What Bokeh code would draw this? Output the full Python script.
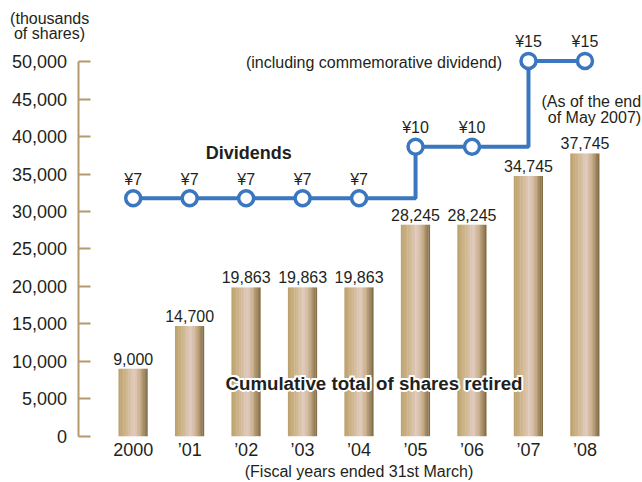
from bokeh.plotting import figure
from bokeh.models import ColumnDataSource, Range1d, FixedTicker, Label, NumeralTickFormatter
from bokeh.transform import dodge
from bokeh.core.properties import value
from bokeh.embed import file_html
from bokeh.resources import INLINE

# ---- data ----
years = ["2000", "\u201901", "\u201902", "\u201903", "\u201904", "\u201905", "\u201906", "\u201907", "\u201908"]
shares = [9000, 14700, 19863, 19863, 19863, 28245, 28245, 34745, 37745]
dividends = [7, 7, 7, 7, 7, 10, 10, 15, 15]
y_ticks = list(range(0, 50001, 5000))

x = list(range(len(years)))
share_labels = [f"{v:,}" for v in shares]
div_labels = [f"\u00a5{d}" for d in dividends]

FONT = "Liberation Sans"
TXT = "#231f20"
TAN = "#b39a6c"
BLUE = "#3a77bf"

src = ColumnDataSource(dict(x=x, shares=shares, share_labels=share_labels,
                            div=dividends, div_labels=div_labels))

p = figure(width=642, height=482, output_backend="svg", toolbar_location=None,
           x_range=Range1d(-2.350, 9.019), y_range=Range1d(-6182, 58171),
           min_border=0)
p.extra_y_ranges = {"div": Range1d(-9.568, 18.521)}
p.grid.grid_line_color = None
p.outline_line_color = None
p.background_fill_color = "white"

# ---- gradient bars (vertical strips) ----
bar_w = 0.514
stops = [(0.0, (0xbb, 0xa0, 0x6a)), (0.3, (0xd0, 0xb8, 0x92)), (0.55, (0xe2, 0xcb, 0xc0)),
         (0.75, (0xc6, 0xad, 0x88)), (1.0, (0x7c, 0x66, 0x3f))]

def grad(t):
    for (t0, c0), (t1, c1) in zip(stops[:-1], stops[1:]):
        if t0 <= t <= t1:
            f = (t - t0) / (t1 - t0)
            return "#%02x%02x%02x" % tuple(int(round(a + (b - a) * f)) for a, b in zip(c0, c1))
    return "#%02x%02x%02x" % stops[-1][1]

N = 18
sw = bar_w / N
for i in range(N):
    off = -bar_w / 2 + sw * (i + 0.5)
    p.vbar(x=dodge("x", off), top="shares", bottom=0, width=sw * 1.25 if i < N - 1 else sw,
           source=src, fill_color=grad((i + 0.5) / N), line_color=None)

# bar value labels
p.text(x="x", y="shares", text="share_labels", source=src, y_offset=-10,
       text_align="center", text_baseline="middle", text_font=value(FONT),
       text_font_size="16px", text_color=TXT)

# ---- dividends step line ----
p.step(x="x", y="div", source=src, mode="after", line_color=BLUE, line_width=4,
       y_range_name="div")
p.scatter(x="x", y="div", source=src, size=15, fill_color="white", line_color=BLUE,
          line_width=3.5, y_range_name="div")
p.text(x="x", y="div", text="div_labels", source=src, y_offset=-19, y_range_name="div",
       text_align="center", text_baseline="middle", text_font=value(FONT),
       text_font_size="16px", text_color=TXT)

# ---- axes ----
ya = p.yaxis[0]
ya.fixed_location = -0.977
ya.ticker = FixedTicker(ticks=y_ticks)
ya.formatter = NumeralTickFormatter(format="0,0")
ya.bounds = (0, 50000)
ya.axis_line_color = TAN
ya.axis_line_width = 2
ya.major_tick_line_color = TAN
ya.major_tick_line_width = 2
ya.major_tick_in = 12
ya.major_tick_out = 0
ya.minor_tick_line_color = None
ya.major_label_standoff = 11
ya.major_label_text_font = FONT
ya.major_label_text_font_size = "18px"
ya.major_label_text_color = TXT

xa = p.xaxis[0]
xa.fixed_location = 0
xa.ticker = FixedTicker(ticks=x)
xa.major_label_overrides = {i: years[i] for i in x}
xa.axis_line_color = None
xa.major_tick_line_color = None
xa.major_tick_in = 0
xa.major_tick_out = 0
xa.minor_tick_line_color = None
xa.major_label_standoff = 4
xa.major_label_text_font = FONT
xa.major_label_text_font_size = "18px"
xa.major_label_text_color = TXT

# ---- annotations ----
def lab(xv, yv, t, size="16px", align="center", style="normal", color=TXT, xo=0, yo=0):
    p.add_layout(Label(x=xv, y=yv, text=t, text_align=align, text_baseline="middle",
                       text_font=FONT, text_font_size=size, text_font_style=style,
                       text_color=color, x_offset=xo, y_offset=yo))

lab(-1.479, 55728, "(thousands")
lab(-1.482, 53725, "of shares)")
lab(3.999, -4713, "(Fiscal years ended 31st March)")
lab(4.264, 49933, "(including commemorative dividend)")
lab(8.995, 44726, "(As of the end", align="right")
lab(8.995, 42497, "of May 2007)", align="right")
lab(2.047, 37784, "Dividends", size="18px", style="bold")

CUM = "Cumulative total of shares retired"
for dx, dy in [(-2, 0), (2, 0), (0, -2), (0, 2), (-1.5, -1.5), (1.5, 1.5), (-1.5, 1.5), (1.5, -1.5)]:
    lab(4.264, 7036, CUM, size="18.7px", style="bold", color="white", xo=dx, yo=dy)
lab(4.264, 7036, CUM, size="18.7px", style="bold")

open("out.html", "w").write(file_html(p, INLINE))
